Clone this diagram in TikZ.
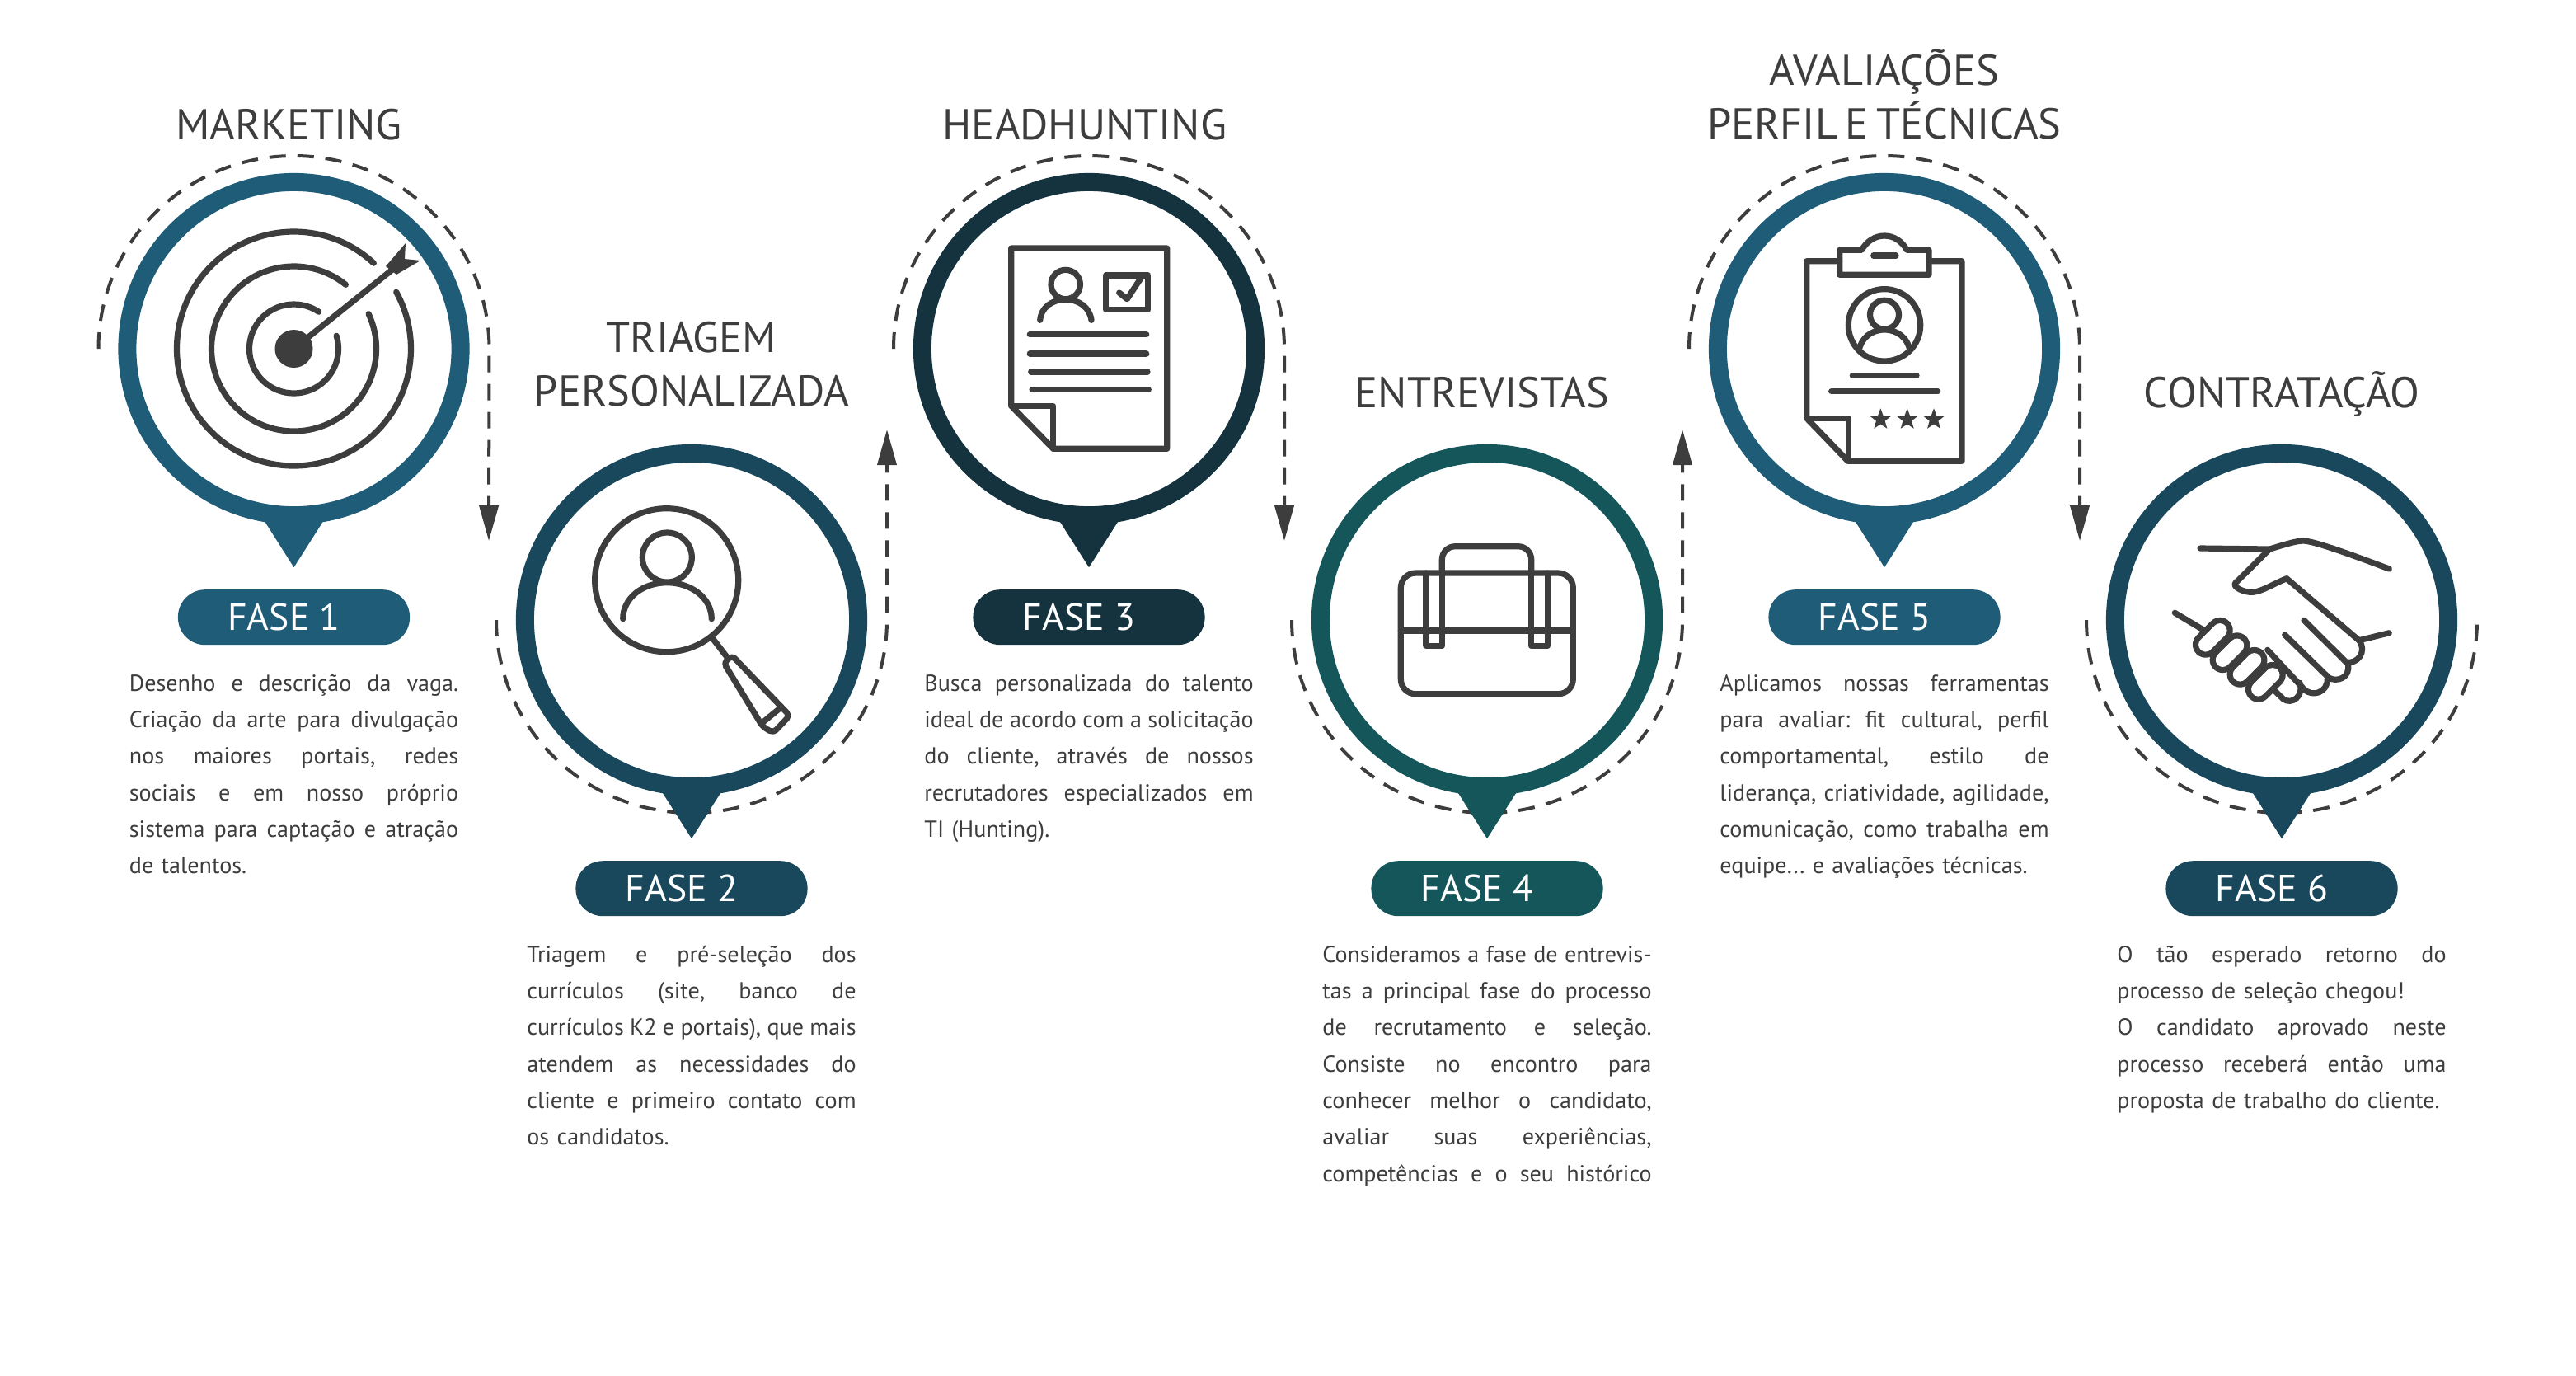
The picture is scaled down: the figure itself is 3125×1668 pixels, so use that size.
\documentclass[tikz,border=0pt]{standalone}
\usepackage{fontspec}
\setmainfont{PT Sans}
\usepackage{tikz}
\usetikzlibrary{positioning}
\usetikzlibrary{arrows.meta}
\usetikzlibrary{shapes.geometric}

\definecolor{faseblue}{HTML}{1F5C78}
\definecolor{fasemid}{HTML}{19475B}
\definecolor{fasedark}{HTML}{15323F}
\definecolor{fasegreen}{HTML}{15565B}
\definecolor{ink}{HTML}{3D3D3D}

\newcommand{\fasetxt}[1]{FASE #1\hspace*{.24cm}}
\newcommand{\jl}[1]{\makebox[3.99cm][s]{\spaceskip=.26em plus 1fil minus .1em\strut #1}}

\tikzset{
  ring/.style={circle,draw=#1,line width=0.22cm,minimum size=4.04cm,inner sep=0pt,outer sep=0pt,fill=white},
  pill/.style={fill=#1,rounded corners=0.33cm,minimum width=2.81cm,minimum height=0.67cm,inner sep=0pt,outer sep=0pt,text=white,font=\fontsize{13}{16}\selectfont},
  title/.style={text=ink,inner sep=0pt,outer sep=0pt,align=center,font=\fontsize{14.9}{18.5}\selectfont},
  bodytext/.style={text=ink,inner sep=0pt,outer sep=0pt,text width=3.99cm,align=left,font=\fontsize{8}{12.6}\selectfont\frenchspacing},
  flowdash/.style={draw=ink,line width=0.04cm,dash pattern=on 0.2cm off 0.14cm},
  flowtip/.style={-{Triangle[length=0.43cm,width=0.23cm]}},
  icon/.style={draw=ink,line width=0.072cm,line cap=round,line join=round},
  capsule/.style={icon,double=white,double distance=0.17cm},
  rating/.style={star,star points=5,star point ratio=2.4,fill=ink,minimum size=0.27cm,inner sep=0pt}
}

\begin{document}
\begin{tikzpicture}[x=0.01cm,y=-0.01cm]
  \useasboundingbox (0,0) rectangle (3125,1668);

  \coordinate (d1s) at (119.5,423);
  \coordinate (d1e) at (593,656);
  \coordinate (d2s) at (602,752);
  \coordinate (d2e) at (1076,521);
  \coordinate (d3s) at (1084,423);
  \coordinate (d3e) at (1558,656);
  \coordinate (d4s) at (1567,752);
  \coordinate (d4e) at (2041,521);
  \coordinate (d5s) at (2049,423);
  \coordinate (d5e) at (2523,656);
  \coordinate (d6s) at (2531,752);

  \draw[flowdash,flowtip] (d1s) arc[start angle=180,end angle=360,x radius=237,y radius=234] -- (d1e);
  \draw[flowdash,flowtip] (d2s) arc[start angle=180,end angle=0,x radius=237,y radius=234] -- (d2e);
  \draw[flowdash,flowtip] (d3s) arc[start angle=180,end angle=360,x radius=237,y radius=234] -- (d3e);
  \draw[flowdash,flowtip] (d4s) arc[start angle=180,end angle=0,x radius=237,y radius=234] -- (d4e);
  \draw[flowdash,flowtip] (d5s) arc[start angle=180,end angle=360,x radius=237,y radius=234] -- (d5e);
  \draw[flowdash] (d6s) arc[start angle=180,end angle=0,x radius=237,y radius=234];

  \node(ring1) [ring=faseblue] at (356.5,423) {};
  \node(ring2) [ring=fasemid] at (839,752) {};
  \node(ring3) [ring=fasedark] at (1321,423) {};
  \node(ring4) [ring=fasegreen] at (1804,752) {};
  \node(ring5) [ring=faseblue] at (2286,423) {};
  \node(ring6) [ring=fasemid] at (2768,752) {};

  \fill[faseblue] ([xshift=-.4cm]ring1.south) -- ([yshift=-.63cm]ring1.south) -- ([xshift=.4cm]ring1.south) -- cycle;
  \fill[fasemid] ([xshift=-.4cm]ring2.south) -- ([yshift=-.63cm]ring2.south) -- ([xshift=.4cm]ring2.south) -- cycle;
  \fill[fasedark] ([xshift=-.4cm]ring3.south) -- ([yshift=-.63cm]ring3.south) -- ([xshift=.4cm]ring3.south) -- cycle;
  \fill[fasegreen] ([xshift=-.4cm]ring4.south) -- ([yshift=-.63cm]ring4.south) -- ([xshift=.4cm]ring4.south) -- cycle;
  \fill[faseblue] ([xshift=-.4cm]ring5.south) -- ([yshift=-.63cm]ring5.south) -- ([xshift=.4cm]ring5.south) -- cycle;
  \fill[fasemid] ([xshift=-.4cm]ring6.south) -- ([yshift=-.63cm]ring6.south) -- ([xshift=.4cm]ring6.south) -- cycle;

  \node(title1) [title,above=0.515cm of ring1,anchor=base,xshift=-0.06cm] {MARKETING};
  \node(title2) [title,above=0.565cm of ring2] {TRIAGEM\\PERSONALIZADA};
  \node(title3) [title,above=0.515cm of ring3,anchor=base,xshift=-0.05cm] {HEADHUNTING};
  \node(title4) [title,above=0.555cm of ring4,anchor=base,xshift=-0.06cm] {ENTREVISTAS};
  \node(title5) [title,above=0.515cm of ring5] {AVALIAÇÕES\\\spaceskip=.18em PERFIL E TÉCNICAS};
  \node(title6) [title,above=0.555cm of ring6,anchor=base] {CONTRATAÇÃO};

  \node(pill1) [pill=faseblue,below=0.9cm of ring1] {\fasetxt{1}};
  \node(pill2) [pill=fasemid,below=0.9cm of ring2] {\fasetxt{2}};
  \node(pill3) [pill=fasedark,below=0.9cm of ring3] {\fasetxt{3}};
  \node(pill4) [pill=fasegreen,below=0.9cm of ring4] {\fasetxt{4}};
  \node(pill5) [pill=faseblue,below=0.9cm of ring5] {\fasetxt{5}};
  \node(pill6) [pill=fasemid,below=0.9cm of ring6] {\fasetxt{6}};

  \node(body1) [bodytext,below=0.25cm of pill1] {\jl{Desenho e descrição da vaga.}\\\jl{Criação da arte para divulgação}\\\jl{nos maiores portais, redes}\\\jl{sociais e em nosso próprio}\\\jl{sistema para captação e atração}\\de talentos.};
  \node(body2) [bodytext,below=0.25cm of pill2] {\jl{Triagem e pré-seleção dos}\\\jl{currículos (site, banco de}\\\jl{currículos K2 e portais), que mais}\\\jl{atendem as necessidades do}\\\jl{cliente e primeiro contato com}\\os candidatos.};
  \node(body3) [bodytext,below=0.25cm of pill3] {\jl{Busca personalizada do talento}\\\jl{ideal de acordo com a solicitação}\\\jl{do cliente, através de nossos}\\\jl{recrutadores especializados em}\\TI (Hunting).};
  \node(body4) [bodytext,below=0.25cm of pill4] {\jl{Consideramos a fase de entrevis-}\\\jl{tas a principal fase do processo}\\\jl{de recrutamento e seleção.}\\\jl{Consiste no encontro para}\\\jl{conhecer melhor o candidato,}\\\jl{avaliar suas experiências,}\\\jl{competências e o seu histórico}};
  \node(body5) [bodytext,below=0.25cm of pill5] {\jl{Aplicamos nossas ferramentas}\\\jl{para avaliar: fit cultural, perfil}\\\jl{comportamental, estilo de}\\\jl{liderança, criatividade, agilidade,}\\\jl{comunicação, como trabalha em}\\equipe... e avaliações técnicas.};
  \node(body6) [bodytext,below=0.25cm of pill6] {\jl{O tão esperado retorno do}\\processo de seleção chegou!\\\jl{O candidato aprovado neste}\\\jl{processo receberá então uma}\\proposta de trabalho do cliente.};

  % alvo
  \draw[icon] (356.5,423) ++(-56:54) arc[start angle=-56,end angle=-377,radius=54];
  \draw[icon] (356.5,423) ++(-51:100) arc[start angle=-51,end angle=-385,radius=100];
  \draw[icon] (356.5,423) ++(-47:142) arc[start angle=-47,end angle=-389,radius=142];
  \fill[ink] (356.5,423) circle[radius=23];
  \draw[icon] (356.5,423) -- (476,327);
  \fill[ink] (468,323) -- (492,295) -- (491,314) -- (510,316) -- (481,333) -- cycle;

  % lupa
  \draw[icon] (808.7,703.7) circle[radius=87];
  \draw[icon] (809.3,676) circle[radius=30];
  \draw[icon] (755.7,750.7) .. controls (755.7,725) and (780,706.7) .. (809.3,706.7) .. controls (838,706.7) and (863.3,725) .. (863.3,750.7);
  \draw[icon] (865,775) -- (881.7,796.7);
  \draw[icon,rounded corners=0.05cm] (878,804) -- (888,795) -- (958,868) -- (938,889) -- (925,881) -- cycle;
  \draw[icon] (926.7,875) -- (945,860);

  % curriculo
  \draw[icon] (1226.7,301) -- (1415.7,301) -- (1415.7,544.3) -- (1277.7,544.3) -- (1226.7,492.3) -- cycle;
  \draw[icon] (1226.7,492.3) -- (1277.7,492.3) -- (1277.7,544.3);
  \draw[icon] (1292.7,345) circle[radius=17.7];
  \draw[icon] (1261.7,388.3) .. controls (1263,373) and (1276,363.3) .. (1292.7,363.3) .. controls (1309,363.3) and (1322,373) .. (1324,388.3);
  \draw[icon] (1341.7,334) rectangle (1392.7,375.7);
  \draw[icon] (1357.7,355) -- (1367.3,362.7) -- (1384,337.3);
  \draw[icon] (1249.3,405.7) -- (1390.7,405.7);
  \draw[icon] (1249.3,429) -- (1390.7,429);
  \draw[icon] (1250.7,451) -- (1392,451);
  \draw[icon] (1252,472.7) -- (1393.3,472.7);

  % maleta
  \draw[icon,rounded corners=0.18cm] (1699.3,695) rectangle (1908.3,841.7);
  \draw[icon] (1699.3,765) -- (1908.3,765);
  \draw[icon] (1730,695) -- (1730,783.3) -- (1749.3,783.3) -- (1749.3,695);
  \draw[icon] (1857.7,695) -- (1857.7,783.3) -- (1877.3,783.3) -- (1877.3,695);
  \draw[icon,rounded corners=0.16cm] (1749.3,695) -- (1749.3,662.7) -- (1857.7,662.7) -- (1857.7,695);

  % ficha
  \draw[icon] (2231.7,316.7) -- (2191.7,316.7) -- (2191.7,507.3) -- (2241.7,559.3) -- (2380,559.3) -- (2380,316.7) -- (2340,316.7);
  \draw[icon] (2191.7,507.3) -- (2242.7,507.3) -- (2242.7,559.3);
  \draw[icon] (2231.7,303.3) -- (2258.3,303.3) .. controls (2265,292) and (2275,286) .. (2286,286) .. controls (2297,286) and (2307,292) .. (2313.3,303.3) -- (2340,303.3) -- (2340,333.3) -- (2231.7,333.3) -- cycle;
  \draw[icon] (2272.7,310) -- (2300,310);
  \draw[icon] (2286,394.3) circle[radius=43.7];
  \draw[icon] (2286,381.7) circle[radius=17.5];
  \draw[icon] (2255,425) .. controls (2258,410) and (2270,400) .. (2286,400) .. controls (2302,400) and (2314,410) .. (2317,425);
  \draw[icon] (2247.3,455.7) -- (2325,455.7);
  \draw[icon] (2221.7,474.7) -- (2350.7,474.7);
  \node(star1) [rating] at (2281.3,508.8) {};
  \node(star2) [rating] at (2313.7,508.8) {};
  \node(star3) [rating] at (2346,508.8) {};

  % aperto de mao
  \draw[icon] (2669,665) -- (2753.3,666) .. controls (2770,661) and (2785,656) .. (2794,656) .. controls (2805,656) and (2840,668) .. (2898.3,690);
  \draw[icon] (2753.3,666) -- (2711.7,707.3) .. controls (2708,712) and (2722,719) .. (2733.3,718.3) .. controls (2745,717) and (2760,707) .. (2774,701.7) -- (2861.7,776.7) .. controls (2872,790) and (2860,806) .. (2846,803) -- (2795,752.3);
  \draw[icon] (2861.7,776.7) -- (2898.3,767.7);
  \draw[icon] (2638.3,743.3) -- (2671.7,763.3);
  \draw[icon] (2848.3,805) .. controls (2852,822) and (2835,828) .. (2825,822) -- (2771.7,770);
  \draw[icon] (2823.3,823.3) .. controls (2824,840) and (2805,846) .. (2795,836) -- (2750.7,788.3);
  \draw[icon] (2790,828.3) .. controls (2795,845) and (2780,855) .. (2770,848) -- (2760,838.3);
  \draw[capsule] (2675.6,782) -- (2693,764.6);
  \draw[capsule] (2696.3,800.4) -- (2713.7,783);
  \draw[capsule] (2717.3,818) -- (2734.7,800.6);
  \draw[capsule] (2739.6,836) -- (2757,818.6);
\end{tikzpicture}
\end{document}
